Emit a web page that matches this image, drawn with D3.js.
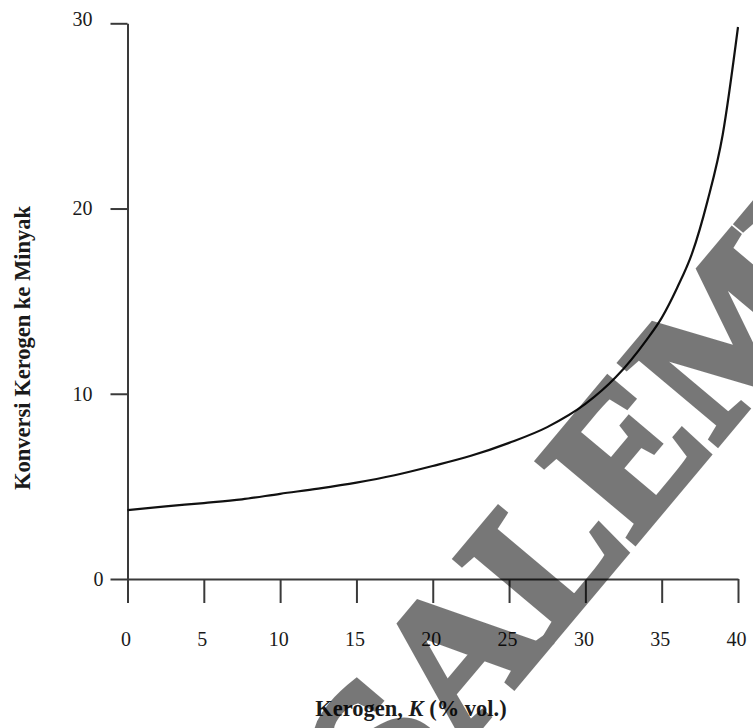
<!DOCTYPE html>
<html>
<head>
<meta charset="utf-8">
<script src="https://cdn.jsdelivr.net/npm/d3@7"></script>
<style>
  html, body { margin: 0; padding: 0; background: #fff; }
  svg { display: block; }
  text { font-family: "Liberation Serif", "DejaVu Serif", serif; fill: #1a1a1a; }
</style>
</head>
<body>
<svg id="chart" width="753" height="728"></svg>
<script>
// Kerogen volume fraction (% vol.) and conversion of kerogen to oil
const kerogen    = [0, 2.5, 5, 7.5, 10, 12.5, 15, 17.5, 20, 22.5, 25, 27.5, 30, 32, 34, 35, 36, 37, 38, 39, 40];
const conversion = [3.72, 3.92, 4.1, 4.3, 4.6, 4.88, 5.2, 5.6, 6.1, 6.65, 7.35, 8.2, 9.45, 10.9, 12.9, 14.1, 15.7, 17.6, 20.4, 24.0, 29.8];

const xTickValues = [0, 5, 10, 15, 20, 25, 30, 35, 40];
const yTickValues = [0, 10, 20, 30];

const yTitle = "Konversi Kerogen ke Minyak";
const xTitleParts = [
  { text: "Kerogen, ", italic: false },
  { text: "K", italic: true },
  { text: " (% vol.)", italic: false }
];
const watermarkText = "SALEMBA";

const svg = d3.select("#chart");

const x = d3.scaleLinear().domain([0, 40]).range([127.5, 738]);
const y = d3.scaleLinear().domain([0, 30]).range([579, 23.3]);

const axisColor = "#3a3a3a";

// Y axis: ticks point left, the 0 tick extends the x axis line
const gy = svg.append("g")
  .attr("transform", `translate(${x(0)},0)`)
  .call(d3.axisLeft(y).tickValues(yTickValues).tickSizeInner(17).tickSizeOuter(0).tickPadding(18));
gy.selectAll(".tick text")
  .attr("font-size", 20)
  .attr("dx", d => d === 0 ? 11 : 0)
  .attr("dy", d => d === 30 ? "0.1em" : "0.32em");

// X axis: ticks point down, the 0 tick extends the y axis line
const gx = svg.append("g")
  .attr("transform", `translate(0,${y(0)})`)
  .call(d3.axisBottom(x).tickValues(xTickValues).tickSizeInner(24).tickSizeOuter(0).tickPadding(29));
gx.selectAll(".tick text")
  .attr("font-size", 20)
  .attr("dx", -2);

svg.selectAll(".domain, .tick line")
  .attr("stroke", axisColor)
  .attr("stroke-width", 2);
svg.selectAll(".tick text").attr("fill", "#1a1a1a").attr("font-family", "Liberation Serif, serif");

// Conversion curve
const line = d3.line()
  .x((d, i) => x(kerogen[i]))
  .y(d => y(d))
  .curve(d3.curveMonotoneX);

svg.append("path")
  .datum(conversion)
  .attr("d", line)
  .attr("fill", "none")
  .attr("stroke", "#111")
  .attr("stroke-width", 2.2);

// Axis titles
const xt = svg.append("text")
  .attr("x", 411)
  .attr("y", 716)
  .attr("text-anchor", "middle")
  .attr("font-size", 22.5)
  .attr("font-weight", "bold");
xt.selectAll("tspan")
  .data(xTitleParts)
  .join("tspan")
  .attr("font-style", d => d.italic ? "italic" : "normal")
  .text(d => d.text);

svg.append("text")
  .attr("transform", "translate(30,348) rotate(-90)")
  .attr("text-anchor", "middle")
  .attr("font-size", 22.5)
  .attr("font-weight", "bold")
  .text(yTitle);

// Publisher watermark across the plot: heavy letters composited as one translucent layer
svg.append("g")
  .attr("opacity", 0.53)
  .append("text")
  .attr("transform", "translate(393,830) rotate(-50)")
  .attr("font-size", 192)
  .attr("font-weight", "bold")
  .style("fill", "#000")
  .attr("stroke", "#000")
  .attr("stroke-width", 7)
  .attr("stroke-linejoin", "miter")
  .text(watermarkText);
</script>
</body>
</html>
